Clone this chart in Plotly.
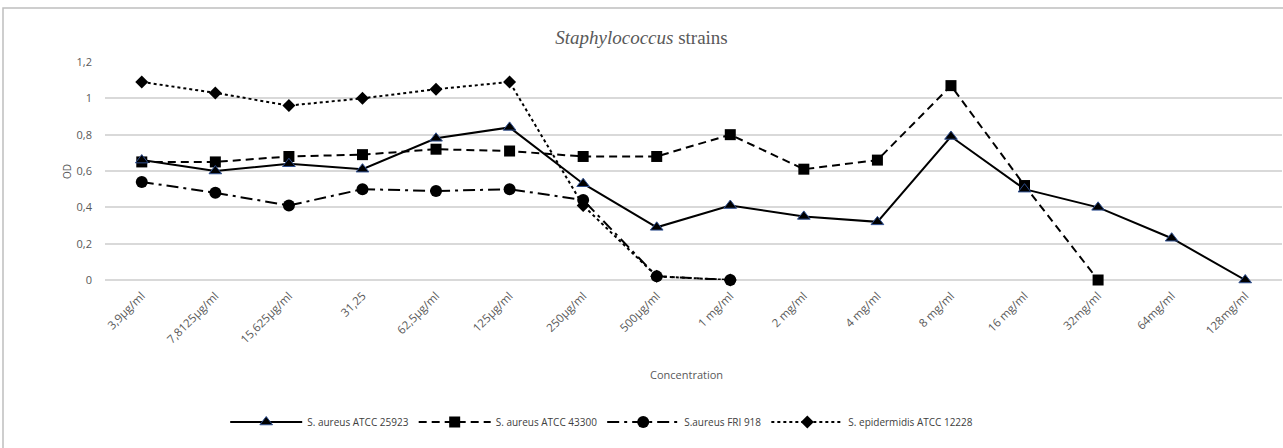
import plotly.graph_objects as go

categories = ["3,9µg/ml", "7,8125µg/ml", "15,625µg/ml", "31,25", "62,5µg/ml", "125µg/ml",
              "250µg/ml", "500µg/ml", "1 mg/ml", "2 mg/ml", "4 mg/ml", "8 mg/ml",
              "16 mg/ml", "32mg/ml", "64mg/ml", "128mg/ml"]

atcc25923 = [0.66, 0.60, 0.64, 0.61, 0.78, 0.84, 0.53, 0.29, 0.41, 0.35, 0.32, 0.79, 0.50, 0.40, 0.23, 0.0]
atcc43300 = [0.65, 0.65, 0.68, 0.69, 0.72, 0.71, 0.68, 0.68, 0.80, 0.61, 0.66, 1.07, 0.52, 0.0]
fri918 = [0.54, 0.48, 0.41, 0.50, 0.49, 0.50, 0.44, 0.02, 0.0]
epidermidis = [1.09, 1.03, 0.96, 1.00, 1.05, 1.09, 0.41, 0.02, 0.0]

names = ["S. aureus ATCC 25923", "S. aureus ATCC 43300", "S.aureus FRI 918", "S. epidermidis ATCC 12228"]

fig = go.Figure()

fig.add_trace(go.Scatter(
    x=categories[:len(epidermidis)], y=epidermidis, name=names[3], mode="lines+markers",
    line=dict(color="black", width=2, dash="dot"),
    marker=dict(symbol="diamond", size=10, color="black"), cliponaxis=False))
fig.add_trace(go.Scatter(
    x=categories[:len(fri918)], y=fri918, name=names[2], mode="lines+markers",
    line=dict(color="black", width=2, dash="12px,5px,3px,5px"),
    marker=dict(symbol="circle", size=12, color="black"), cliponaxis=False))
fig.add_trace(go.Scatter(
    x=categories[:len(atcc43300)], y=atcc43300, name=names[1], mode="lines+markers",
    line=dict(color="black", width=2, dash="8px,5px"),
    marker=dict(symbol="square", size=11, color="black"), cliponaxis=False))
fig.add_trace(go.Scatter(
    x=categories[:len(atcc25923)], y=atcc25923, name=names[0], mode="lines+markers",
    line=dict(color="black", width=2),
    marker=dict(symbol="triangle-up", size=11, color="black", line=dict(color="#2f4f8f", width=1)),
    cliponaxis=False))

gray = "#595959"
fig.update_layout(
    width=1283, height=448,
    margin=dict(l=105, r=1, t=62, b=168),
    paper_bgcolor="white", plot_bgcolor="white",
    separators=", ",
    showlegend=True,
    legend=dict(orientation="h", x=0.422, xanchor="center", y=(280 - 422) / 218, yanchor="middle",
                traceorder="reversed", font=dict(family="Open Sans", size=10, color="#404040"),
                itemwidth=72),
    title=dict(text="<i>Staphylococcus</i> strains", x=0.5, xref="container", xanchor="center",
               y=1 - 37 / 448, yref="container", yanchor="middle",
               font=dict(family="Liberation Serif", size=19, color=gray)),
    xaxis=dict(type="category", categoryorder="array", categoryarray=categories,
               tickangle=-45, showgrid=False, showline=False, ticks="",
               tickfont=dict(family="Open Sans", size=11.5, color=gray), range=[-0.5, 15.5],
               ticklabelstandoff=6),
    yaxis=dict(range=[0, 1.2], dtick=0.2, showgrid=True, gridcolor="#d9d9d9", gridwidth=1.5,
               zeroline=True, zerolinecolor="#d9d9d9", zerolinewidth=1.5, showline=False,
               tickfont=dict(family="Open Sans", size=11, color=gray), ticklabelstandoff=12),
)

fig.add_annotation(text="Concentration", xref="paper", yref="paper",
                   x=0.4944, y=(280 - 374) / 218, yanchor="middle", showarrow=False,
                   font=dict(family="Open Sans", size=11, color=gray))
fig.add_annotation(text="OD", xref="paper", yref="paper",
                   x=(58 - 105) / 1177, y=(280 - 172) / 218, yanchor="middle", showarrow=False,
                   textangle=-90, font=dict(family="Open Sans", size=10, color=gray))

# chart border
fig.add_shape(type="rect", xref="paper", yref="paper",
              x0=(3 - 105) / 1177, x1=(1290 - 105) / 1177,
              y0=(280 - 460) / 218, y1=(280 - 8) / 218,
              line=dict(color="#bfbfbf", width=1.5), fillcolor="rgba(0,0,0,0)", layer="below")

fig.write_html("out.html", config={"displayModeBar": False},
               post_script="document.body.style.margin='0';document.body.style.overflow='hidden';")
